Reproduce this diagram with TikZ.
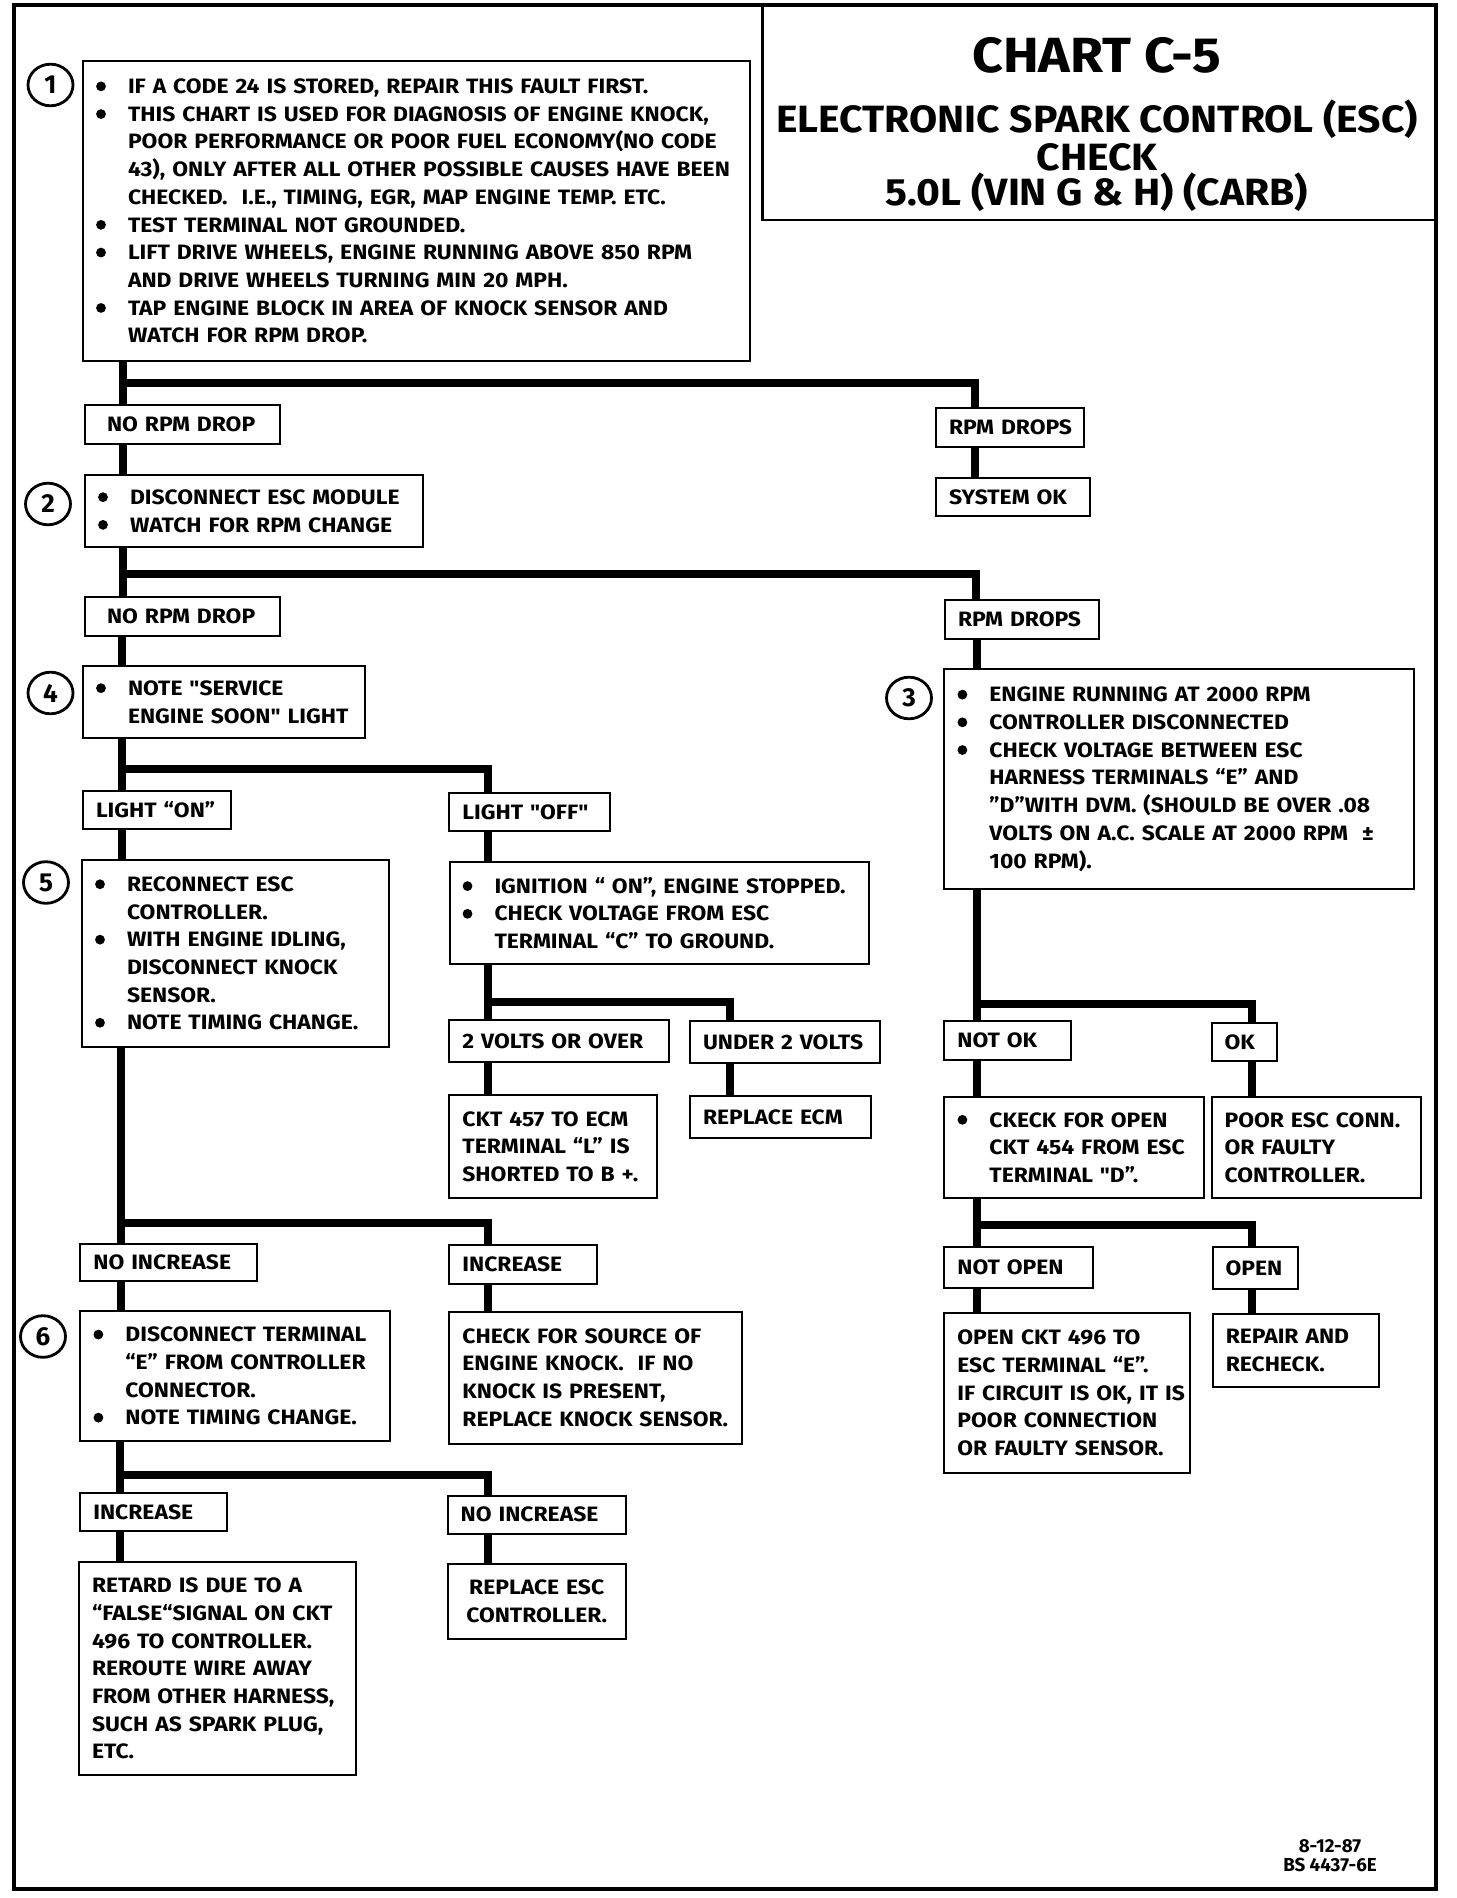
\documentclass[tikz,border=0pt]{standalone}
\usepackage{fontspec}
\usetikzlibrary{shapes.geometric}
\setmainfont{Fira Sans}
\newfontfamily\bodyff{Fira Sans}[FakeStretch=1.1]
\newfontfamily\ttlA{Fira Sans}[FakeStretch=1.085]
\newfontfamily\ttlB{Fira Sans}[FakeStretch=1.075]
\newcommand\bodyfont{\bodyff\fontsize{10.4}{13.85}\selectfont\bfseries}
\newcommand\dotb{\tikz[baseline=0pt]\fill (0pt,3.6pt) circle[radius=2.45pt];}
\newcommand\bl[1]{\mbox{\makebox[5pt][c]{\dotb}\hspace{11pt}#1}}
\newcommand\ct[1]{\mbox{\hspace*{16pt}#1}}
\newcommand\lnx[1]{\mbox{#1}}
\begin{document}
\begin{tikzpicture}[x=0.5pt,y=-0.5pt,
  bx/.style={draw, line width=1pt, rectangle, inner xsep=6.5pt, inner ysep=0pt, align=left, font=\bodyfont},
  conn/.style={line width=4pt},
  num/.style={draw, ellipse, line width=1.4pt, minimum width=22.5pt, minimum height=20.8pt, inner sep=0pt, font=\fontsize{13}{13}\selectfont\bfseries},
  ttl/.style={anchor=base, inner sep=0pt}]
\useasboundingbox (0,0) rectangle (1456,1898);
\draw[line width=2pt] (14,5) rectangle (1436,1889);
% title block
\node[inner sep=0pt, minimum width=336.6pt, minimum height=107.3pt] (title) at (1099.4,112.3) {};
\draw[line width=1.1pt] (title.north west) -- (title.south west) -- (title.south east);
\node[ttl, font=\ttlA\fontsize{24.7}{28}\selectfont\bfseries] (tc) at (1097,73) {CHART C-5};
\node[ttl, font=\ttlB\fontsize{19}{21}\selectfont\bfseries] (te) at (1097,133) {ELECTRONIC SPARK CONTROL (ESC)};
\node[ttl, font=\ttlB\fontsize{19}{21}\selectfont\bfseries] (tk) at (1097,171) {CHECK};
\node[ttl, font=\ttlB\fontsize{19}{21}\selectfont\bfseries] (tv) at (1097,206) {5.0L (VIN G \& H) (CARB)};
% footer
\node[ttl, font=\fontsize{9.4}{11}\selectfont\bfseries] (f1) at (1330,1852) {8-12-87};
\node[ttl, font=\fontsize{9.4}{11}\selectfont\bfseries] (f2) at (1330,1871) {BS 4437-6E};

% boxes
\node[bx, text width=320.5pt, minimum height=150pt] (b1) at (416.5,211) {%
\bl{IF A CODE 24 IS STORED, REPAIR THIS FAULT FIRST.}\\
\bl{THIS CHART IS USED FOR DIAGNOSIS OF ENGINE KNOCK,}\\
\ct{POOR PERFORMANCE OR POOR FUEL ECONOMY(NO CODE}\\
\ct{43), ONLY AFTER ALL OTHER POSSIBLE CAUSES HAVE BEEN}\\
\ct{CHECKED.\ \ I.E., TIMING, EGR, MAP ENGINE TEMP. ETC.}\\
\bl{TEST TERMINAL NOT GROUNDED.}\\
\bl{LIFT DRIVE WHEELS, ENGINE RUNNING ABOVE 850 RPM}\\
\ct{AND DRIVE WHEELS TURNING MIN 20 MPH.}\\
\bl{TAP ENGINE BLOCK IN AREA OF KNOCK SENSOR AND}\\
\ct{WATCH FOR RPM DROP.}};
\node[num] (n1) at (50.5,85) {1};

\node[bx, inner xsep=11pt, text width=75.5pt, minimum height=19.5pt] (nrd1) at (182.5,424.5) {\lnx{NO RPM DROP}};
\node[bx, text width=61pt, minimum height=19.5pt] (rpm1) at (1010,427.5) {\lnx{RPM DROPS}};
\node[bx, text width=64pt, minimum height=19pt] (sysok) at (1013,497) {\lnx{SYSTEM OK}};

\node[bx, text width=156pt, minimum height=36pt] (b2) at (254,511) {%
\bl{DISCONNECT ESC MODULE}\\
\bl{WATCH FOR RPM CHANGE}};
\node[num] (n2) at (48,504) {2};

\node[bx, inner xsep=11pt, text width=75.5pt, minimum height=19.5pt] (nrd2) at (182.5,616.5) {\lnx{NO RPM DROP}};
\node[bx, text width=64pt, minimum height=19.5pt] (rpm2) at (1022,619.5) {\lnx{RPM DROPS}};

\node[bx, text width=128pt, minimum height=35.75pt] (b4) at (224,702) {%
\bl{NOTE "SERVICE}\\
\ct{ENGINE SOON" LIGHT}};
\node[num] (n4) at (50.5,693) {4};

\node[bx, text width=221.8pt, minimum height=109.8pt] (b3) at (1179.2,779.2) {%
\bl{ENGINE RUNNING AT 2000 RPM}\\
\bl{CONTROLLER DISCONNECTED}\\
\bl{CHECK VOLTAGE BETWEEN ESC}\\
\ct{HARNESS TERMINALS “E” AND}\\
\ct{”D”WITH DVM. (SHOULD BE OVER .08}\\
\ct{VOLTS ON A.C. SCALE AT 2000 RPM\ \ ±}\\
\ct{100 RPM).}};
\node[num] (n3) at (909,698) {3};

\node[bx, text width=61pt, minimum height=19.4pt] (lon) at (157,810) {\lnx{LIGHT “ON”}};
\node[bx, text width=67.3pt, minimum height=19.4pt] (loff) at (529.7,812) {\lnx{LIGHT "OFF"}};

\node[bx, text width=140.3pt, minimum height=93.5pt] (b5) at (235.3,953.5) {%
\bl{RECONNECT ESC}\\
\ct{CONTROLLER.}\\
\bl{WITH ENGINE IDLING,}\\
\ct{DISCONNECT KNOCK}\\
\ct{SENSOR.}\\
\bl{NOTE TIMING CHANGE.}};
\node[num] (n5) at (46,882.5) {5};

\node[bx, text width=196.5pt, minimum height=51.25pt] (ign) at (659,913.2) {%
\bl{IGNITION “ ON”, ENGINE STOPPED.}\\
\bl{CHECK VOLTAGE FROM ESC}\\
\ct{TERMINAL “C” TO GROUND.}};

\node[bx, text width=96.6pt, minimum height=21.2pt] (vover) at (559,1040.8) {\lnx{2 VOLTS OR OVER}};
\node[bx, text width=82pt, minimum height=20.75pt] (vunder) at (785,1041.8) {\lnx{UNDER 2 VOLTS}};
\node[bx, text width=50.3pt, minimum height=19.5pt] (notok) at (1007.7,1040.5) {\lnx{NOT OK}};
\node[bx, text width=19.7pt, minimum height=19.25pt] (ok) at (1244.3,1041.8) {\lnx{OK}};

\node[bx, text width=90.8pt, minimum height=51.5pt] (ckt) at (553.2,1146.5) {%
\lnx{CKT 457 TO ECM}\\
\lnx{TERMINAL “L” IS}\\
\lnx{SHORTED TO B +.}};
\node[bx, text width=77.5pt, minimum height=21pt] (recm) at (780.5,1117) {\lnx{REPLACE ECM}};
\node[bx, text width=116.8pt, minimum height=50.5pt] (ckeck) at (1074.2,1147.5) {%
\bl{CKECK FOR OPEN}\\
\ct{CKT 454 FROM ESC}\\
\ct{TERMINAL "D”.}};
\node[bx, text width=91.5pt, minimum height=50.5pt] (poor) at (1316.1,1147.5) {%
\lnx{POOR ESC CONN.}\\
\lnx{OR FAULTY}\\
\lnx{CONTROLLER.}};

\node[bx, text width=75.3pt, minimum height=18.8pt] (noinc1) at (168.7,1262.6) {\lnx{NO INCREASE}};
\node[bx, text width=60.8pt, minimum height=19.5pt] (inc1) at (523.2,1264.5) {\lnx{INCREASE}};
\node[bx, text width=61.1pt, minimum height=20.75pt] (notopen) at (1018.5,1267.5) {\lnx{NOT OPEN}};
\node[bx, text width=29.65pt, minimum height=21.1pt] (open) at (1255.3,1267.9) {\lnx{OPEN}};

\node[bx, text width=141.8pt, minimum height=65.3pt] (b6) at (235.2,1376.1) {%
\bl{DISCONNECT TERMINAL}\\
\ct{“E” FROM CONTROLLER}\\
\ct{CONNECTOR.}\\
\bl{NOTE TIMING CHANGE.}};
\node[num] (n6) at (43,1336.5) {6};

\node[bx, text width=133.3pt, minimum height=65.9pt] (chk) at (595.7,1377.6) {%
\lnx{CHECK FOR SOURCE OF}\\
\lnx{ENGINE KNOCK.\ \ IF NO}\\
\lnx{KNOCK IS PRESENT,}\\
\lnx{REPLACE KNOCK SENSOR.}};
\node[bx, text width=109.8pt, minimum height=80pt] (openckt) at (1067.2,1393) {%
\lnx{OPEN CKT 496 TO}\\
\lnx{ESC TERMINAL “E”.}\\
\lnx{IF CIRCUIT IS OK, IT IS}\\
\lnx{POOR CONNECTION}\\
\lnx{OR FAULTY SENSOR.}};
\node[bx, text width=70pt, minimum height=36.25pt] (repair) at (1295.75,1350.25) {%
\lnx{REPAIR AND}\\
\lnx{RECHECK.}};

\node[bx, text width=60.15pt, minimum height=19pt] (inc2) at (153.5,1512) {\lnx{INCREASE}};
\node[bx, text width=76pt, minimum height=19pt] (noinc2) at (536.7,1514.5) {\lnx{NO INCREASE}};
\node[bx, text width=125.5pt, minimum height=106.2pt] (retard) at (217.5,1668.6) {%
\lnx{RETARD IS DUE TO A}\\
\lnx{“FALSE“SIGNAL ON CKT}\\
\lnx{496 TO CONTROLLER.}\\
\lnx{REROUTE WIRE AWAY}\\
\lnx{FROM OTHER HARNESS,}\\
\lnx{SUCH AS SPARK PLUG,}\\
\lnx{ETC.}};
\node[bx, align=center, text width=76pt, minimum height=37.4pt] (resc) at (536.7,1601.2) {%
\lnx{REPLACE ESC}\\
\lnx{CONTROLLER.}};

% connectors
\coordinate (j1) at (123,383); \coordinate (k1) at (975,383);
\draw[conn] (b1.south -| j1) -- (nrd1.north -| j1);
\draw[conn] (j1) -- (k1) -- (rpm1.north -| k1);
\draw[conn] (nrd1.south -| j1) -- (b2.north -| j1);
\draw[conn] (rpm1.south -| k1) -- (sysok.north -| k1);
\coordinate (j2) at (123,574); \coordinate (k2) at (976,574);
\draw[conn] (b2.south -| j2) -- (nrd2.north -| j2);
\draw[conn] (j2) -- (k2) -- (rpm2.north -| k2);
\coordinate (j3) at (122,769); \coordinate (k3) at (488,769);
\draw[conn] (nrd2.south -| j3) -- (b4.north -| j3);
\draw[conn] (b4.south -| j3) -- (lon.north -| j3);
\draw[conn] (j3) -- (k3) -- (loff.north -| k3);
\draw[conn] (lon.south -| j3) -- (b5.north -| j3);
\draw[conn] (loff.south -| k3) -- (ign.north -| k3);
\coordinate (j5) at (488,1002); \coordinate (k5) at (730,1002);
\draw[conn] (ign.south -| j5) -- (vover.north -| j5);
\draw[conn] (j5) -- (k5) -- (vunder.north -| k5);
\draw[conn] (vover.south -| j5) -- (ckt.north -| j5);
\draw[conn] (vunder.south -| k5) -- (recm.north -| k5);
\coordinate (j4) at (977,1004); \coordinate (k4) at (1251.5,1004);
\draw[conn] (rpm2.south -| j4) -- (b3.north -| j4);
\draw[conn] (b3.south -| j4) -- (notok.north -| j4);
\draw[conn] (j4) -- (k4) -- (ok.north -| k4);
\draw[conn] (notok.south -| j4) -- (ckeck.north -| j4);
\draw[conn] (ok.south -| k4) -- (poor.north -| k4);
\coordinate (j6) at (977,1224.6); \coordinate (k6) at (1251.5,1224.6);
\draw[conn] (ckeck.south -| j6) -- (notopen.north -| j6);
\draw[conn] (j6) -- (k6) -- (open.north -| k6);
\draw[conn] (notopen.south -| j6) -- (openckt.north -| j6);
\draw[conn] (open.south -| k6) -- (repair.north -| k6);
\coordinate (j7) at (121,1223); \coordinate (k7) at (488,1223);
\draw[conn] (b5.south -| j7) -- (noinc1.north -| j7);
\draw[conn] (j7) -- (k7) -- (inc1.north -| k7);
\draw[conn] (noinc1.south -| j7) -- (b6.north -| j7);
\draw[conn] (inc1.south -| k7) -- (chk.north -| k7);
\coordinate (j8) at (120,1475); \coordinate (k8) at (488,1475);
\draw[conn] (b6.south -| j8) -- (inc2.north -| j8);
\draw[conn] (j8) -- (k8) -- (noinc2.north -| k8);
\draw[conn] (inc2.south -| j8) -- (retard.north -| j8);
\draw[conn] (noinc2.south -| k8) -- (resc.north -| k8);
\end{tikzpicture}
\end{document}
